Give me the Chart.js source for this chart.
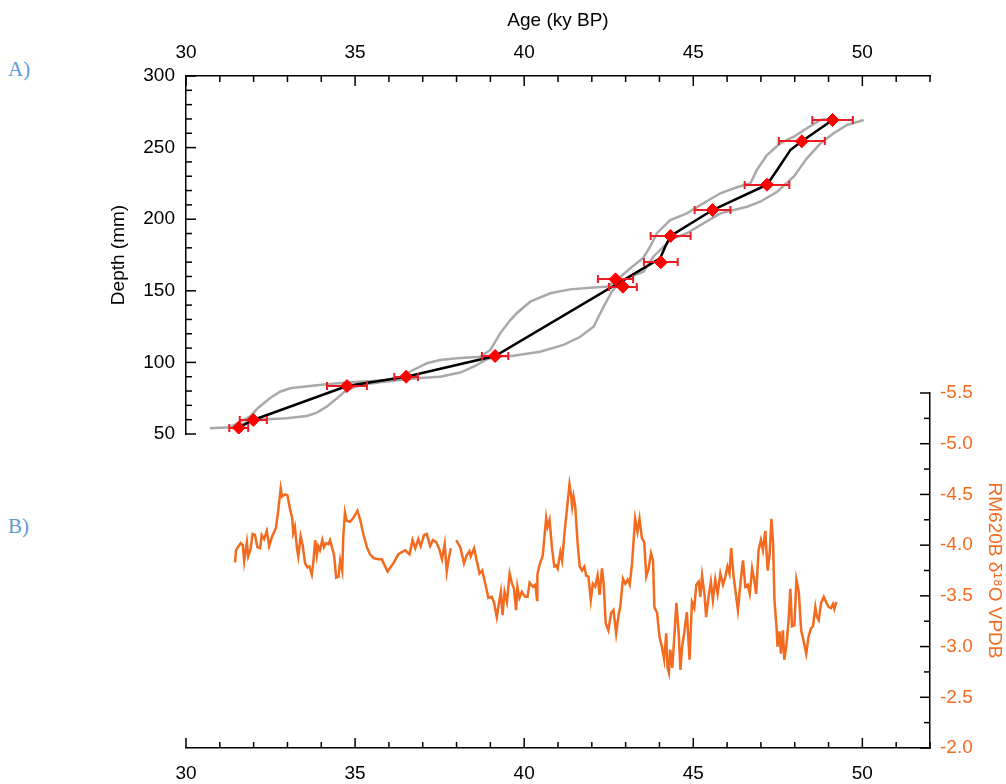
<!DOCTYPE html>
<html>
<head>
<meta charset="UTF-8">
<title>RM620B age model and δ18O</title>
<script src="https://cdn.jsdelivr.net/npm/chart.js"></script>
<style>
  body { margin: 0; background: #fff; width: 1006px; height: 784px; overflow: hidden; position: relative; }
  canvas { position: absolute; left: 0; top: 0; }
  .tag { position: absolute; font-family: "Liberation Serif", "Times New Roman", serif; font-size: 21px; line-height: 21px; color: #5b9bd5; }
</style>
</head>
<body>
<div class="tag" style="left:8px; top:59px">A)</div>
<div class="tag" style="left:8px; top:516px">B)</div>
<canvas id="chartB" width="1006" height="784"></canvas>
<canvas id="chartA" width="1006" height="784"></canvas>

<script>
// --- A) age model: dated samples (age ky BP, depth mm, 2σ age error)
const datedAge   = [31.56, 31.99, 34.76, 36.51, 39.14, 42.70, 42.92, 44.04, 44.33, 45.57, 47.18, 48.21, 49.12];
const datedDepth = [54.4, 59.8, 83.5, 90.0, 104.5, 158.0, 152.9, 169.9, 188.3, 206.4, 224.1, 254.4, 269.3];
const datedErr   = [0.28, 0.40, 0.59, 0.35, 0.39, 0.52, 0.41, 0.50, 0.59, 0.53, 0.66, 0.68, 0.60];

// median age model
const modelAge   = [31.56, 31.99, 34.76, 36.51, 39.14, 44.02, 44.17, 44.33, 45.57, 47.18, 47.48, 47.87, 48.21, 49.12];
const modelDepth = [54.4, 59.8, 83.5, 90.0, 104.5, 172.7, 180.8, 188.3, 206.4, 224.1, 234.4, 248.3, 254.4, 269.3];

// confidence bounds (young side / old side)
const youngAge = [30.71, 31.30, 31.89, 32.13, 32.49, 32.78, 33.08, 33.67, 34.16, 34.85, 35.53, 35.94, 36.33, 36.72, 37.12,
  37.51, 38.01, 38.70, 39.00, 39.29, 39.59, 39.78, 40.18, 40.77, 41.36, 41.95, 42.45, 42.74, 43.14, 43.52,
  43.72, 43.93, 44.32, 44.81, 45.30, 45.80, 46.29, 46.69, 46.88, 47.18, 47.57, 47.97, 48.36, 48.76, 49.15];
const youngDepth = [54.0, 54.7, 62.1, 68.2, 75.1, 79.5, 81.9, 83.5, 84.7, 86.1, 87.0, 87.7, 89.6, 94.7, 99.4,
  101.7, 102.9, 104.0, 108.7, 120.3, 129.6, 134.3, 142.4, 148.3, 151.0, 152.2, 152.9, 157.5, 165.7, 172.9,
  180.6, 190.4, 199.4, 204.1, 211.1, 218.1, 222.3, 225.1, 234.4, 244.8, 253.0, 257.6, 263.5, 269.3, 270.5];
const oldAge = [31.55, 31.89, 32.39, 32.98, 33.57, 33.87, 34.16, 34.46, 34.75, 35.15, 35.74, 36.33, 36.83, 37.51,
  38.11, 38.55, 38.91, 39.19, 39.68, 40.47, 41.16, 41.66, 42.05, 42.35, 42.59, 42.84, 43.14, 43.53, 43.82,
  44.32, 44.81, 45.30, 45.80, 46.59, 46.98, 47.48, 47.97, 48.36, 48.76, 49.15, 49.55, 50.04];
const oldDepth = [55.0, 59.8, 60.3, 61.0, 62.6, 64.9, 69.1, 74.9, 80.7, 84.2, 86.1, 87.7, 88.9, 90.0,
  92.9, 97.5, 102.4, 104.0, 104.7, 107.5, 112.2, 117.9, 124.9, 138.9, 149.4, 156.4, 159.8, 163.3, 173.8,
  185.5, 190.2, 197.1, 204.1, 208.7, 212.2, 219.2, 229.7, 242.5, 253.0, 260.0, 265.8, 269.3];

// --- B) RM620B d18O (permil VPDB) against age; null marks the hiatus
const isoAge = [
  31.45, 31.48, 31.55, 31.62, 31.68, 31.72, 31.80, 31.84, 31.91, 31.97,
  32.04, 32.11, 32.19, 32.24, 32.31, 32.39, 32.46, 32.54, 32.66, 32.73,
  32.80, 32.84, 32.93, 33.00, 33.08, 33.14, 33.17, 33.22, 33.28, 33.32,
  33.39, 33.45, 33.52, 33.59, 33.65, 33.72, 33.77, 33.82, 33.87, 33.91,
  33.96, 34.03, 34.08, 34.14, 34.21, 34.26, 34.34, 34.38, 34.44, 34.51,
  34.56, 34.62, 34.65, 34.70, 34.75, 34.85, 34.95, 35.07, 35.15, 35.25,
  35.35, 35.44, 35.56, 35.69, 35.79, 35.96, 36.13, 36.28, 36.48, 36.61,
  36.70, 36.78, 36.87, 36.94, 37.04, 37.12, 37.22, 37.30, 37.40, 37.49,
  37.57, 37.65, 37.71, 37.76, 37.83,
  37.90,
  37.99, 38.11, 38.22, 38.30, 38.38, 38.42, 38.52, 38.60, 38.68, 38.76,
  38.85, 38.94, 39.04, 39.11, 39.19, 39.27, 39.31, 39.36, 39.42, 39.49,
  39.57, 39.64, 39.70, 39.76, 39.80, 39.86, 39.93, 40.03, 40.10, 40.16,
  40.26, 40.33, 40.38, 40.39, 40.45,
  40.55, 40.65, 40.69, 40.75, 40.82, 40.89, 40.95, 40.99, 41.07, 41.12,
  41.21, 41.34, 41.38, 41.42, 41.46, 41.51, 41.58, 41.64, 41.71, 41.78,
  41.83, 41.90, 41.97, 42.03, 42.10, 42.17, 42.23, 42.30, 42.35, 42.41,
  42.49, 42.57, 42.64, 42.72, 42.79, 42.84, 42.92, 42.99, 43.06, 43.12,
  43.19, 43.28, 43.35, 43.41, 43.48, 43.55, 43.61, 43.68, 43.75, 43.81,
  43.85, 43.93, 44.00, 44.07, 44.14, 44.20, 44.24, 44.28, 44.32, 44.38,
  44.44, 44.50, 44.57, 44.62, 44.67, 44.73, 44.81, 44.89, 44.96, 45.03,
  45.09, 45.16, 45.21, 45.26, 45.33, 45.38, 45.45, 45.52, 45.58, 45.65,
  45.72, 45.80, 45.88, 45.95, 46.01, 46.07, 46.12, 46.19, 46.27, 46.32,
  46.39, 46.47, 46.54, 46.61, 46.67, 46.74, 46.80, 46.86, 46.93, 47.00,
  47.06, 47.13, 47.20, 47.26, 47.31, 47.36, 47.40, 47.46, 47.49, 47.55,
  47.59, 47.65, 47.69, 47.75, 47.82, 47.87, 47.92, 47.99, 48.05, 48.12,
  48.19, 48.26, 48.34, 48.41, 48.48, 48.54, 48.61, 48.66, 48.71, 48.78,
  48.86, 48.94, 49.00, 49.07, 49.13, 49.17, 49.23
];
const isoD18O = [
  -3.83, -3.95, -3.99, -4.02, -4.00, -3.84, -4.03, -3.89, -3.96, -4.11,
  -4.10, -3.98, -3.97, -4.10, -4.06, -4.14, -3.99, -4.08, -4.17, -4.35,
  -4.56, -4.48, -4.50, -4.49, -4.35, -4.27, -4.12, -4.18, -3.97, -3.89,
  -4.09, -4.00, -3.82, -3.78, -3.79, -3.71, -3.85, -4.05, -3.90, -3.99,
  -3.95, -4.05, -3.98, -4.02, -4.01, -4.05, -3.95, -3.90, -3.68, -3.69,
  -3.85, -3.75, -4.08, -4.32, -4.24, -4.23, -4.27, -4.34, -4.25, -4.10,
  -3.98, -3.91, -3.87, -3.86, -3.86, -3.74, -3.82, -3.91, -3.95, -3.91,
  -4.05, -3.97, -4.06, -3.99, -4.10, -4.11, -3.99, -4.05, -4.03, -3.96,
  -3.86, -4.01, -3.74, -3.85, -3.97,
  null,
  -4.05, -3.98, -3.82, -3.90, -3.94, -3.89, -3.97, -3.84, -3.72, -3.75,
  -3.62, -3.48, -3.49, -3.43, -3.29, -3.46, -3.54, -3.31, -3.54, -3.44,
  -3.72, -3.62, -3.57, -3.36, -3.59, -3.48, -3.54, -3.49, -3.49, -3.63,
  -3.59, -3.61, -3.46, -3.71, -3.80,
  -3.90, -4.27, -4.18, -4.25, -3.98, -3.79, -3.80, -3.77, -3.93, -3.85,
  -4.18, -4.60, -4.51, -4.38, -4.48, -4.38, -4.02, -3.79, -3.75, -3.79,
  -3.70, -3.69, -3.46, -3.62, -3.59, -3.70, -3.51, -3.77, -3.62, -3.23,
  -3.16, -3.33, -3.36, -3.13, -3.31, -3.39, -3.67, -3.62, -3.66, -3.61,
  -3.82, -4.26, -4.13, -4.26, -4.07, -4.03, -3.69, -3.77, -3.92, -3.85,
  -3.39, -3.33, -3.10, -3.00, -2.87, -3.13, -2.79, -2.74, -2.97, -2.79,
  -3.10, -3.43, -3.13, -2.77, -3.00, -3.13, -3.34, -2.87, -3.44, -3.38,
  -3.61, -3.64, -3.49, -3.70, -3.52, -3.29, -3.49, -3.64, -3.46, -3.66,
  -3.52, -3.72, -3.61, -3.69, -3.79, -3.72, -3.97, -3.70, -3.49, -3.36,
  -3.61, -3.85, -3.59, -3.61, -3.52, -3.77, -3.66, -3.52, -3.95, -4.05,
  -3.95, -4.14, -3.75, -3.92, -4.26, -4.02, -3.46, -3.20, -3.00, -3.15,
  -2.93, -3.16, -2.87, -3.00, -3.26, -3.57, -3.20, -3.21, -3.66, -3.54,
  -3.16, -3.06, -2.93, -3.10, -3.18, -3.20, -3.39, -3.29, -3.26, -3.43,
  -3.49, -3.43, -3.39, -3.38, -3.42, -3.37, -3.44
];

const ORANGE = '#f26b1f';
const GREY = '#a9a9a9';
const RED = '#ff0000';

Chart.defaults.font.family = '"Liberation Sans", Arial, sans-serif';
Chart.defaults.font.size = 19;
Chart.defaults.color = '#000';

const toPoints = (xs, ys) => xs.map((x, i) => ({ x: x, y: ys[i] }));

// tick marks pointing into the plot, long on labelled ticks, short otherwise
const inwardTicks = {
  id: 'inwardTicks',
  afterDraw(chart) {
    const ctx = chart.ctx;
    ctx.save();
    ctx.strokeStyle = '#000';
    ctx.lineWidth = 1.5;
    Object.values(chart.scales).forEach(scale => {
      const pos = scale.options.position;
      scale.ticks.forEach(t => {
        const len = t.label === '' ? 6 : 10;
        const p = scale.getPixelForValue(t.value);
        ctx.beginPath();
        if (pos === 'top') { ctx.moveTo(p, scale.bottom); ctx.lineTo(p, scale.bottom + len); }
        if (pos === 'bottom') { ctx.moveTo(p, scale.top); ctx.lineTo(p, scale.top - len); }
        if (pos === 'left') { ctx.moveTo(scale.right, p); ctx.lineTo(scale.right + len, p); }
        if (pos === 'right') { ctx.moveTo(scale.left, p); ctx.lineTo(scale.left - len, p); }
        ctx.stroke();
      });
    });
    ctx.restore();
  }
};

// horizontal age error bars, drawn just before the sample diamonds
const errorBars = {
  id: 'errorBars',
  beforeDatasetDraw(chart, args) {
    if (args.index !== 3) return;
    const { ctx, scales: { x, y } } = chart;
    ctx.save();
    ctx.strokeStyle = '#ec1c24';
    ctx.lineWidth = 2;
    datedAge.forEach((a, i) => {
      const x0 = x.getPixelForValue(a - datedErr[i]);
      const x1 = x.getPixelForValue(a + datedErr[i]);
      const py = Math.round(y.getPixelForValue(datedDepth[i]));
      ctx.beginPath();
      ctx.moveTo(x0, py); ctx.lineTo(x1, py);
      ctx.moveTo(x0, py - 4); ctx.lineTo(x0, py + 4);
      ctx.moveTo(x1, py - 4); ctx.lineTo(x1, py + 4);
      ctx.stroke();
    });
    ctx.restore();
  }
};

const plainAxis = {
  grid: { display: false, drawTicks: false },
  border: { display: true, color: '#000', width: 1.5 }
};

// panel A: age model (higher order = drawn further back)
new Chart(document.getElementById('chartA'), {
  type: 'scatter',
  data: {
    datasets: [
      { data: toPoints(youngAge, youngDepth), order: 3, showLine: true, borderColor: GREY, borderWidth: 2.5, pointRadius: 0 },
      { data: toPoints(oldAge, oldDepth), order: 2, showLine: true, borderColor: GREY, borderWidth: 2.5, pointRadius: 0 },
      { data: toPoints(modelAge, modelDepth), order: 1, showLine: true, borderColor: '#000', borderWidth: 2.5, pointRadius: 0 },
      { data: toPoints(datedAge, datedDepth), order: 0, pointStyle: 'rectRot', pointRadius: 6.5,
        backgroundColor: RED, borderColor: RED, borderWidth: 1 }
    ]
  },
  options: {
    responsive: false,
    animation: false,
    layout: { padding: { left: 103, top: 5, right: 76, bottom: 350 } },
    plugins: { legend: { display: false }, tooltip: { enabled: false } },
    scales: {
      x: {
        ...plainAxis,
        type: 'linear', position: 'top', min: 30, max: 52,
        title: { display: true, text: 'Age (ky BP)' },
        ticks: { stepSize: 1, autoSkip: false, maxRotation: 0, padding: 12,
          callback: v => (v % 5 === 0 ? String(v) : '') },
        afterFit: s => { s.height = 71; }
      },
      y: {
        ...plainAxis,
        type: 'linear', position: 'left', min: 50, max: 300,
        title: { display: true, text: 'Depth (mm)' },
        ticks: { stepSize: 10, autoSkip: false, padding: 11,
          callback: v => (v % 50 === 0 ? String(v) : '') },
        afterFit: s => { s.width = 83; }
      }
    }
  },
  plugins: [inwardTicks, errorBars]
});

// panel B: d18O record
new Chart(document.getElementById('chartB'), {
  type: 'scatter',
  data: {
    datasets: [
      { data: toPoints(isoAge, isoD18O), showLine: true, spanGaps: false,
        borderColor: ORANGE, borderWidth: 2.5, pointRadius: 0 }
    ]
  },
  options: {
    responsive: false,
    animation: false,
    layout: { padding: { left: 186, top: 393, right: 0, bottom: 0 } },
    plugins: { legend: { display: false }, tooltip: { enabled: false } },
    scales: {
      x: {
        ...plainAxis,
        type: 'linear', position: 'bottom', min: 30, max: 52,
        ticks: { stepSize: 1, autoSkip: false, maxRotation: 0, padding: 14,
          callback: v => (v % 5 === 0 ? String(v) : '') },
        afterFit: s => { s.height = 36; }
      },
      y: {
        ...plainAxis,
        type: 'linear', position: 'right', min: -5.5, max: -2.0, reverse: true,
        title: { display: true, text: 'RM620B δ¹⁸O VPDB', color: ORANGE, padding: 0 },
        ticks: { stepSize: 0.25, autoSkip: false, padding: 10, color: ORANGE,
          callback: v => (Math.abs(v * 2 - Math.round(v * 2)) < 1e-6 ? v.toFixed(1) : '') },
        afterFit: s => { s.width = 76; }
      }
    }
  },
  plugins: [inwardTicks]
});
</script>
</body>
</html>
